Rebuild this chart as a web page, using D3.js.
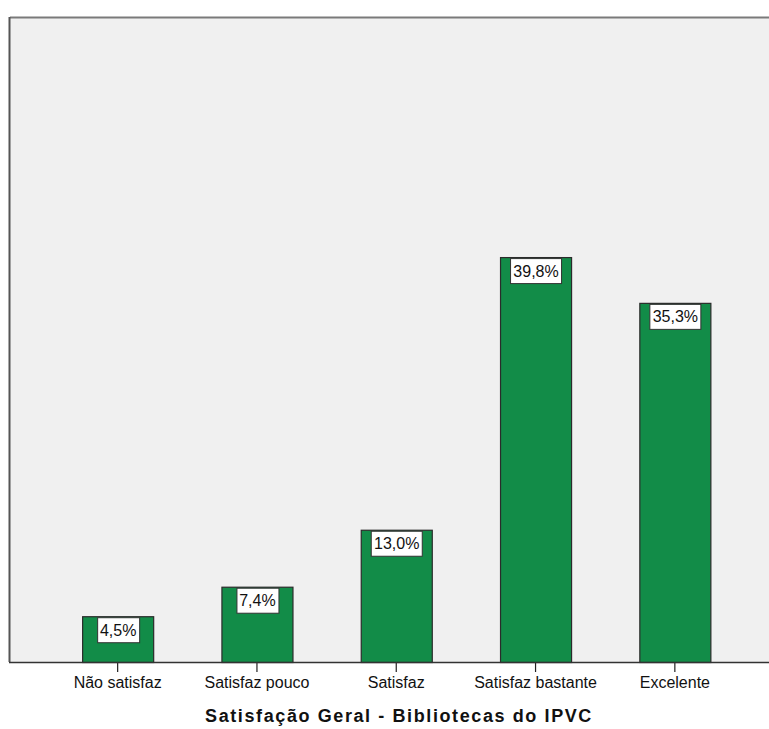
<!DOCTYPE html>
<html>
<head>
<meta charset="utf-8">
<script src="https://cdn.jsdelivr.net/npm/d3@7"></script>
<style>
  body { margin: 0; background: #fff; }
  svg { display: block; font-family: "Liberation Sans", Arial, sans-serif; }
</style>
</head>
<body>
<svg id="chart" width="769" height="729"></svg>
<script>
// chart data
const categories = ["Não satisfaz", "Satisfaz pouco", "Satisfaz", "Satisfaz bastante", "Excelente"];
const percentages = [4.5, 7.4, 13.0, 39.8, 35.3];
const valueLabels = ["4,5%", "7,4%", "13,0%", "39,8%", "35,3%"];
const axisTitle = "Satisfação Geral - Bibliotecas do IPVC";

const svg = d3.select("#chart");

const plot = { left: 10, top: 18, right: 769, bottom: 662 };

// scales
const x = d3.scaleBand()
    .domain(categories)
    .range([48, 744.5])
    .paddingInner(0.49)
    .paddingOuter(0.245);

const y = d3.scaleLinear()
    .domain([0, 63.3])
    .range([plot.bottom, plot.top]);

// plot background
svg.append("rect")
    .attr("x", plot.left)
    .attr("y", plot.top)
    .attr("width", plot.right - plot.left)
    .attr("height", plot.bottom - plot.top)
    .attr("fill", "#f0f0f0");

// top and left frame
svg.append("line")
    .attr("x1", plot.left).attr("x2", plot.right)
    .attr("y1", plot.top - 0.5).attr("y2", plot.top - 0.5)
    .attr("stroke", "#7a7a7a").attr("stroke-width", 2);
svg.append("line")
    .attr("x1", plot.left - 0.5).attr("x2", plot.left - 0.5)
    .attr("y1", plot.top - 1).attr("y2", plot.bottom)
    .attr("stroke", "#555").attr("stroke-width", 2);

const data = categories.map((c, i) => ({ cat: c, value: percentages[i], label: valueLabels[i] }));

// bars
svg.append("g")
    .selectAll("rect")
    .data(data)
    .enter()
    .append("rect")
    .attr("x", d => x(d.cat) + 0.5)
    .attr("y", d => y(d.value) + 0.5)
    .attr("width", x.bandwidth())
    .attr("height", d => plot.bottom - y(d.value))
    .attr("fill", "#128c48")
    .attr("stroke", "#2b2b2b")
    .attr("stroke-width", 1.2);

// value labels in white boxes
const lab = svg.append("g")
    .selectAll("g")
    .data(data)
    .enter()
    .append("g")
    .attr("transform", d => `translate(${x(d.cat) + x.bandwidth() / 2 + 0.5},${y(d.value)})`);

lab.append("text")
    .attr("text-anchor", "middle")
    .attr("y", 19.5)
    .attr("font-size", 16)
    .attr("fill", "#111")
    .text(d => d.label);

lab.each(function () {
    const g = d3.select(this);
    const bb = g.select("text").node().getBBox();
    g.insert("rect", "text")
        .attr("x", Math.round(bb.x - 3) + 0.5)
        .attr("y", 1.5)
        .attr("width", Math.round(bb.width + 6))
        .attr("height", 25)
        .attr("fill", "#fff")
        .attr("stroke", "#333")
        .attr("stroke-width", 1);
});

// x axis
const xAxis = d3.axisBottom(x).tickSize(10).tickSizeOuter(0);
const gx = svg.append("g")
    .attr("transform", `translate(0,${plot.bottom})`)
    .call(xAxis);
gx.select(".domain").remove();
gx.selectAll(".tick line").attr("stroke", "#222").attr("stroke-width", 1.2);
gx.selectAll(".tick text")
    .attr("y", 15)
    .attr("font-size", 16)
    .attr("font-family", "Liberation Sans, Arial, sans-serif")
    .attr("fill", "#111");

// baseline
svg.append("line")
    .attr("x1", plot.left - 1).attr("x2", plot.right)
    .attr("y1", plot.bottom + 0.5).attr("y2", plot.bottom + 0.5)
    .attr("stroke", "#333").attr("stroke-width", 1.6);

// axis title
svg.append("text")
    .attr("x", 399)
    .attr("y", 722)
    .attr("text-anchor", "middle")
    .attr("font-size", 18)
    .attr("font-weight", "bold")
    .attr("letter-spacing", 1.6)
    .attr("fill", "#111")
    .text(axisTitle);
</script>
</body>
</html>
